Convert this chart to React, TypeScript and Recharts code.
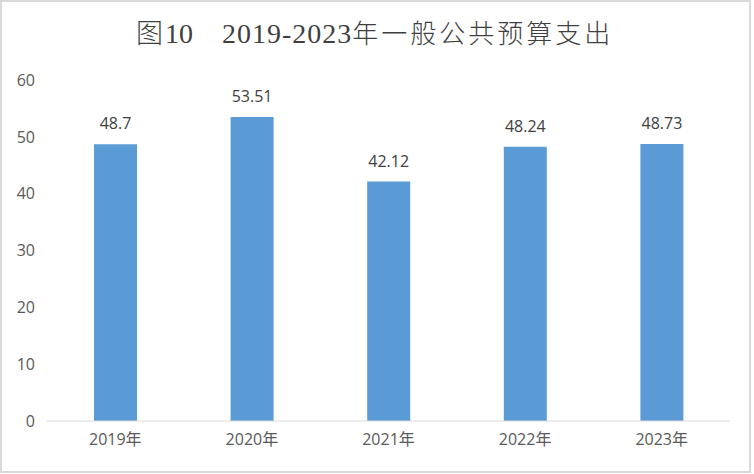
import React from 'react'
import { BarChart, Bar, XAxis, YAxis, LabelList } from 'recharts'

const years = ['2019年', '2020年', '2021年', '2022年', '2023年']
const spending = [48.7, 53.51, 42.12, 48.24, 48.73]
const yTicks = [0, 10, 20, 30, 40, 50, 60]

const data = years.map((year, i) => ({ year, value: spending[i] }))

const tickFont = '"Open Sans", "Noto Sans CJK SC", sans-serif'
const cjkFont = '"Noto Sans CJK SC", sans-serif'
const serifFont = '"Times New Roman", "Liberation Serif", Tinos, serif'

export default function App() {
  return (
    <div style={{ position: 'absolute', left: 0, top: 0, width: 754, height: 474, background: '#fff' }}>
      <div
        style={{
          position: 'absolute', left: 0, top: 0, width: 751, height: 473,
          border: '2px solid #d9d9d9', boxSizing: 'border-box',
        }}
      />
      <div
        style={{
          position: 'absolute', left: 136, top: 12, whiteSpace: 'nowrap',
          color: '#3f3f3f', lineHeight: '40px',
        }}
      >
        <span style={{ fontFamily: cjkFont, fontSize: 27, fontWeight: 300, letterSpacing: 2 }}>图</span>
        <span style={{ fontFamily: serifFont, fontSize: 28 }}>10</span>
        <span style={{ display: 'inline-block', width: 29 }} />
        <span style={{ fontFamily: serifFont, fontSize: 28, letterSpacing: 1 }}>2019-2023</span>
        <span style={{ fontFamily: cjkFont, fontSize: 26, fontWeight: 300, letterSpacing: 3 }}>年一般公共预算支出</span>
      </div>
      <BarChart
        width={754}
        height={474}
        data={data}
        margin={{ top: 80, right: 24, left: 0, bottom: 23 }}
      >
        <XAxis
          dataKey="year"
          height={30}
          tickLine={false}
          axisLine={{ stroke: '#d9d9d9', strokeWidth: 1 }}
          tickMargin={7}
          tick={{ fontSize: 16, fill: '#595959', fontFamily: tickFont }}
        />
        <YAxis
          width={47}
          domain={[0, 60]}
          ticks={yTicks}
          axisLine={false}
          tickLine={false}
          tickMargin={6}
          tick={{ fontSize: 16, fill: '#595959', fontFamily: tickFont }}
        />
        <Bar dataKey="value" fill="#5b9bd5" barSize={43} isAnimationActive={false}>
          <LabelList
            dataKey="value"
            position="top"
            offset={15}
            style={{ fontSize: 16, fill: '#404040', fontFamily: tickFont }}
          />
        </Bar>
      </BarChart>
    </div>
  )
}
